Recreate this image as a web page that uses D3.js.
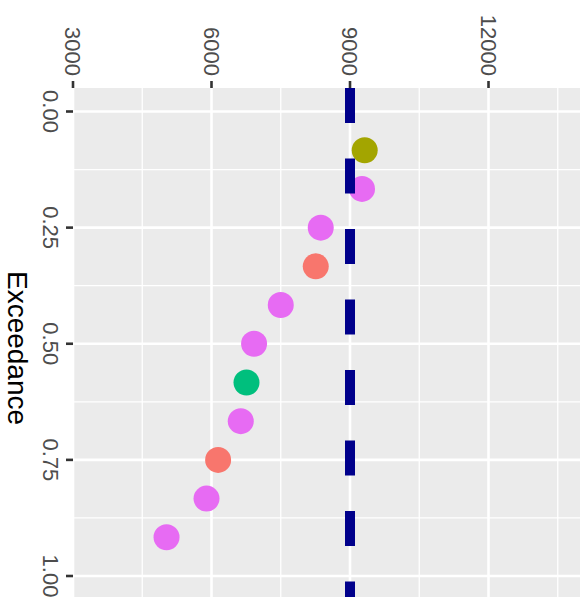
<!DOCTYPE html>
<html>
<head>
<meta charset="utf-8">
<script src="https://cdn.jsdelivr.net/npm/d3@7"></script>
<style>
  html, body { margin: 0; padding: 0; background: #fff; }
  svg { display: block; }
</style>
</head>
<body>
<svg id="chart" width="585" height="597"></svg>
<script>
// ---- data ----
const categories = ["A", "B", "C", "D", "E"];
const categoryColors = ["#F8766D", "#A3A500", "#00BF7D", "#00B0F6", "#E76BF3"];
const pointGroup = ["B", "E", "E", "A", "E", "E", "C", "E", "A", "E", "E"];
const pointValue = [9318, 9260, 8366, 8258, 7500, 6922, 6758, 6634, 6143, 5892, 5026];
const pointExceedance = [1/12, 2/12, 3/12, 4/12, 5/12, 6/12, 7/12, 8/12, 9/12, 10/12, 11/12];
const referenceValue = [9000];
const valueTicks = [3000, 6000, 9000, 12000];
const valueMinorTicks = [4500, 7500, 10500, 13500];
const exceedanceTicks = [0, 0.25, 0.5, 0.75, 1];
const exceedanceMinorTicks = [0.125, 0.375, 0.625, 0.875];
const exceedanceTitle = "Exceedance";

// ---- layout ----
const svg = d3.select("#chart");
const panel = { left: 73, right: 580, top: 88, bottom: 600 };

const x = d3.scaleLinear().domain([3000, 13960]).range([73, 579]);
const y = d3.scaleLinear().domain([0, 1]).range([111.5, 576]);
const color = d3.scaleOrdinal().domain(categories).range(categoryColors);

// panel background
svg.append("rect")
  .attr("x", panel.left).attr("y", panel.top)
  .attr("width", panel.right - panel.left).attr("height", panel.bottom - panel.top)
  .attr("fill", "#EBEBEB");

const grid = svg.append("g");
// minor grid
grid.selectAll("line.vmin").data(valueMinorTicks).join("line")
  .attr("x1", d => x(d)).attr("x2", d => x(d))
  .attr("y1", panel.top).attr("y2", panel.bottom)
  .attr("stroke", "#fff").attr("stroke-width", 1.3);
grid.selectAll("line.emin").data(exceedanceMinorTicks).join("line")
  .attr("class", "emin")
  .attr("y1", d => y(d)).attr("y2", d => y(d))
  .attr("x1", panel.left).attr("x2", panel.right)
  .attr("stroke", "#fff").attr("stroke-width", 1.3);
// major grid
grid.selectAll("line.vmaj").data(valueTicks).join("line")
  .attr("class", "vmaj")
  .attr("x1", d => x(d)).attr("x2", d => x(d))
  .attr("y1", panel.top).attr("y2", panel.bottom)
  .attr("stroke", "#fff").attr("stroke-width", 2.6);
grid.selectAll("line.emaj").data(exceedanceTicks).join("line")
  .attr("class", "emaj")
  .attr("y1", d => y(d)).attr("y2", d => y(d))
  .attr("x1", panel.left).attr("x2", panel.right)
  .attr("stroke", "#fff").attr("stroke-width", 2.6);

// points
const pts = pointValue.map((v, i) => ({ v, e: pointExceedance[i], g: pointGroup[i] }));
svg.append("g").selectAll("circle").data(pts).join("circle")
  .attr("cx", d => x(d.v)).attr("cy", d => y(d.e))
  .attr("r", 13)
  .attr("fill", d => color(d.g));

// reference dashed line
svg.append("g").selectAll("line").data(referenceValue).join("line")
  .attr("x1", d => x(d)).attr("x2", d => x(d))
  .attr("y1", panel.top).attr("y2", panel.bottom)
  .attr("stroke", "#00008B").attr("stroke-width", 10)
  .attr("stroke-dasharray", "35,35.5");

// value axis (top)
const vAxis = svg.append("g");
vAxis.selectAll("line").data(valueTicks).join("line")
  .attr("x1", d => x(d)).attr("x2", d => x(d))
  .attr("y1", panel.top - 7).attr("y2", panel.top)
  .attr("stroke", "#333").attr("stroke-width", 2.6);
vAxis.selectAll("text").data(valueTicks).join("text")
  .attr("transform", d => `translate(${x(d) - 8},76) rotate(90)`)
  .attr("text-anchor", "end")
  .attr("font-family", "Liberation Sans, Arial, sans-serif")
  .attr("font-size", 22)
  .attr("fill", "#4D4D4D")
  .text(d => d3.format("d")(d));

// exceedance axis (left)
const eAxis = svg.append("g");
eAxis.selectAll("line").data(exceedanceTicks).join("line")
  .attr("y1", d => y(d)).attr("y2", d => y(d))
  .attr("x1", panel.left - 7).attr("x2", panel.left)
  .attr("stroke", "#333").attr("stroke-width", 2.6);
eAxis.selectAll("text").data(exceedanceTicks).join("text")
  .attr("transform", d => `translate(43,${y(d)}) rotate(90)`)
  .attr("text-anchor", "middle")
  .attr("font-family", "Liberation Sans, Arial, sans-serif")
  .attr("font-size", 22)
  .attr("fill", "#4D4D4D")
  .text(d => d3.format(".2f")(d));

// title
svg.append("text")
  .attr("transform", `translate(8,348) rotate(90)`)
  .attr("text-anchor", "middle")
  .attr("font-family", "Liberation Sans, Arial, sans-serif")
  .attr("font-size", 28)
  .attr("fill", "#000")
  .text(exceedanceTitle);
</script>
</body>
</html>
